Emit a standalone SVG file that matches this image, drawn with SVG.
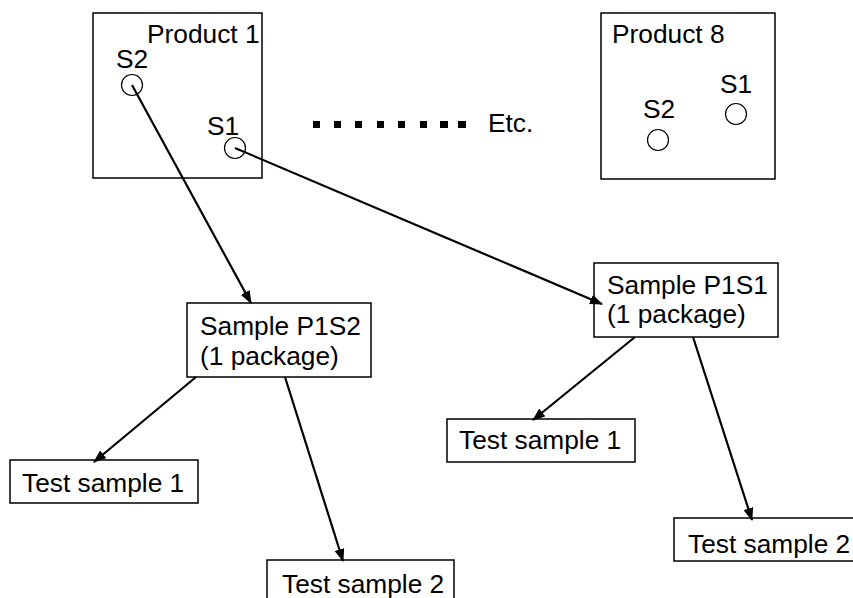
<svg xmlns="http://www.w3.org/2000/svg" width="853" height="598" viewBox="0 0 853 598">
<defs>
<style>
.box{fill:#fff;stroke:#000;stroke-width:1.5}
.t{font-family:"Liberation Sans",Arial,sans-serif;font-size:26.3px;fill:#000}
.c{fill:none;stroke:#000;stroke-width:1.2}
.e{stroke:#000;stroke-width:2.2;fill:none;marker-end:url(#ah)}
</style>
<marker id="ah" viewBox="0 0 13 10" refX="12" refY="5" markerWidth="13" markerHeight="10" markerUnits="userSpaceOnUse" orient="auto">
<path d="M0,0 L13,5 L0,10 z" fill="#000"/>
</marker>
</defs>
<rect width="853" height="598" fill="#fff"/>
<g id="product1">
<rect class="box" x="93" y="13" width="169" height="165"/>
<text class="t" x="147" y="43">Product 1</text>
<text class="t" x="116" y="68">S2</text>
<circle class="c" cx="132" cy="85" r="10.5"/>
<text class="t" x="207" y="135">S1</text>
<circle class="c" cx="235" cy="148" r="10.5"/>
</g>
<g id="product8">
<rect class="box" x="601" y="13" width="174" height="166"/>
<text class="t" x="612" y="43">Product 8</text>
<text class="t" x="720" y="93">S1</text>
<circle class="c" cx="736" cy="114" r="10.5"/>
<text class="t" x="643" y="118">S2</text>
<circle class="c" cx="658" cy="140" r="10.5"/>
</g>
<g id="etc">
<rect x="313" y="121" width="7" height="7"/>
<rect x="334" y="121" width="7" height="7"/>
<rect x="355" y="121" width="7" height="7"/>
<rect x="377" y="121" width="7" height="7"/>
<rect x="398" y="121" width="7" height="7"/>
<rect x="420" y="121" width="7" height="7"/>
<rect x="440" y="121" width="8" height="7"/>
<rect x="458" y="121" width="8" height="7"/>
<text class="t" x="488" y="132">Etc.</text>
</g>
<g id="sampleP1S2">
<rect class="box" x="187" y="303" width="184" height="74"/>
<text class="t" x="200" y="335">Sample P1S2</text>
<text class="t" x="200" y="365">(1 package)</text>
</g>
<g id="sampleP1S1">
<rect class="box" x="594" y="263" width="184" height="74"/>
<text class="t" x="607" y="294">Sample P1S1</text>
<text class="t" x="607" y="323">(1 package)</text>
</g>
<g id="test1left">
<rect class="box" x="10" y="460" width="188" height="43"/>
<text class="t" x="22" y="492">Test sample 1</text>
</g>
<g id="test2left">
<rect class="box" x="267" y="560" width="187" height="45"/>
<text class="t" x="282" y="593">Test sample 2</text>
</g>
<g id="test1right">
<rect class="box" x="447" y="419" width="188" height="43"/>
<text class="t" x="459" y="449">Test sample 1</text>
</g>
<g id="test2right">
<rect class="box" x="674" y="518" width="190" height="43"/>
<text class="t" x="688" y="553">Test sample 2</text>
</g>
<g id="connectors">
<line class="e" x1="132" y1="85" x2="251" y2="303"/>
<line class="e" x1="235" y1="148" x2="602" y2="304"/>
<line class="e" x1="196" y1="377" x2="94" y2="462"/>
<line class="e" x1="285" y1="377" x2="343" y2="561"/>
<line class="e" x1="635" y1="337" x2="533" y2="420"/>
<line class="e" x1="693" y1="337" x2="752" y2="520"/>
</g>
</svg>
